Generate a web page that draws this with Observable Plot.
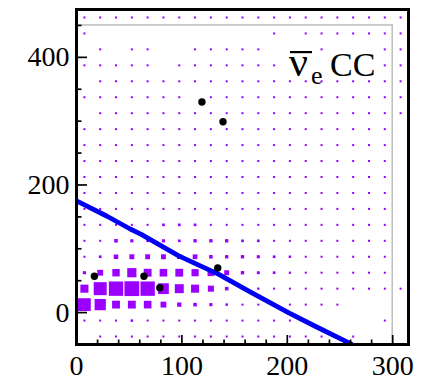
<!DOCTYPE html>
<html>
<head>
<meta charset="utf-8">
<script src="https://cdn.jsdelivr.net/npm/d3@7"></script>
<script src="https://cdn.jsdelivr.net/npm/@observablehq/plot@0.6"></script>
<style>
  html, body { margin: 0; padding: 0; background: white; }
</style>
</head>
<body>
<div id="chart"></div>
<script>
// Bin centres of the 2D histogram
const xCenters = [7.5, 22.5, 37.5, 52.5, 67.5, 82.5, 97.5, 112.5, 127.5, 142.5, 157.5,
                  172.5, 187.5, 202.5, 217.5, 232.5, 247.5, 262.5, 277.5, 292.5, 307.5];
const yCenters = [462.5, 437.5, 412.5, 387.5, 362.5, 337.5, 312.5, 287.5, 262.5, 237.5,
                  212.5, 187.5, 162.5, 137.5, 112.5, 87.5, 62.5, 37.5, 12.5, -12.5, -37.5];

// Bin contents, one row per y bin (top to bottom), one value per x bin
const r462 = [9,9,9,9,9,9,9,9,9,9,9,9,9,9,9,9,9,9,9,9,9];
const r437 = [9,0,0,0,0,0,0,0,0,0,0,0,9,0,9,9,9,9,9,9,9];
const r412 = [0,9,0,9,9,0,0,9,9,9,9,9,0,0,0,9,0,0,0,9,9];
const r387 = [9,9,9,9,9,0,9,9,9,9,9,9,9,0,0,0,0,0,0,9,9];
const r362 = [0,9,9,9,9,9,9,9,9,9,9,9,9,9,9,9,9,9,9,9,9];
const r337 = [9,9,9,9,9,9,9,0,9,9,9,9,9,9,9,9,9,9,9,9,9];
const r312 = [0,9,9,9,9,9,9,9,9,9,9,9,9,9,9,9,9,9,9,9,9];
const r287 = [9,9,9,9,9,9,9,9,9,9,9,9,9,9,9,9,9,9,9,9,0];
const r262 = [9,9,9,9,9,9,9,9,9,9,9,9,9,9,9,9,9,9,9,9,0];
const r237 = [9,9,9,9,9,9,9,9,9,9,9,9,9,9,9,9,9,9,9,9,0];
const r212 = [9,9,9,9,9,9,9,9,9,9,9,9,9,9,9,9,9,9,9,9,0];
const r187 = [9,9,9,9,9,9,9,9,9,9,9,9,9,9,9,9,9,9,9,9,0];
const r162 = [9,9,9,9,9,9,9,9,9,9,9,9,9,9,9,9,9,9,9,9,0];
const r137 = [9,9,9,9,9,12,12,12,9,9,9,9,9,9,9,9,9,9,9,9,0];
const r112 = [9,9,16,14,12,14,12,15,15,15,12,12,9,9,9,9,9,9,9,9,0];
const r87  = [9,12,20,22,22,22,20,21,16,15,15,14,12,11,9,9,9,9,9,9,0];
const r62  = [14,26,33,41,35,34,35,32,30,22,15,13,12,10,9,9,9,9,9,9,0];
const r37  = [36,58,64,66,64,48,40,36,27,16,11,10,9,9,9,9,9,9,9,9,9];
const r12  = [57,50,35,35,34,26,19,16,14,11,9,9,10,9,9,9,9,0,0,0,0];
const rm12 = [9,9,9,11,9,9,9,9,9,9,9,9,9,9,9,0,0,0,0,9,0];
const rm37 = [0,9,9,9,9,9,9,9,9,9,9,9,9,9,9,9,0,9,0,0,0];
const rows = [r462, r437, r412, r387, r362, r337, r312, r287, r262, r237, r212,
              r187, r162, r137, r112, r87, r62, r37, r12, rm12, rm37];

// Data events (black points)
const eventX = [17, 64, 79, 134, 119, 139];
const eventY = [57, 57, 39, 70, 330, 299];

// Blue boundary line
const lineX = [0, 29, 51, 61, 97, 135, 163, 201, 226, 258, 262];
const lineY = [175, 151, 131, 123, 89, 60, 34, 0, -21, -47, -51];

// Inner (histogram) box
const boxX = [0, 300];
const boxY = [-50, 450];

// Axes
const xMajor = [0, 100, 200, 300];
const xMinor = [20, 40, 60, 80, 120, 140, 160, 180, 220, 240, 260, 280];
const yMajor = [0, 200, 400];
const yMinor = [-50, 50, 100, 150, 250, 300, 350, 450];
const labelParts = ["ν", "e", "CC"];

const cells = [];
rows.forEach((row, j) => row.forEach((c, i) => {
  if (c > 0) cells.push({x: xCenters[i], y: yCenters[j], c});
}));
const events = eventX.map((x, i) => ({x, y: eventY[i]}));
const linePts = lineX.map((x, i) => ({x, y: lineY[i]}));

const serif = "'Liberation Serif', 'DejaVu Serif', serif";
const purple = "#9a00ff";
const W = 431, H = 383, mL = 76, mR = 23, mT = 9, mB = 39;

function label() {
  const g = d3.create("svg:g")
    .attr("font-family", serif).attr("fill", "black").attr("text-anchor", "start");
  const right = W - mR;
  const base = mT + 67;
  g.append("text").attr("x", right - 119).attr("y", base).attr("font-size", 42).text(labelParts[0]);
  g.append("rect").attr("x", right - 118).attr("y", base - 25).attr("width", 22).attr("height", 2.2);
  g.append("text").attr("x", right - 97).attr("y", base + 8).attr("font-size", 26).text(labelParts[1]);
  g.append("text").attr("x", right - 78).attr("y", base).attr("font-size", 34).text(labelParts[2]);
  return g.node();
}

const plot = Plot.plot({
  width: W,
  height: H,
  marginLeft: mL,
  marginRight: mR,
  marginTop: mT,
  marginBottom: mB,
  x: {domain: [0, 315], axis: null},
  y: {domain: [-50, 475], axis: null},
  r: {type: "linear", domain: [0, 66], range: [0, 14.8 / Math.sqrt(Math.PI)]},
  style: {fontFamily: serif, background: "white", color: "black"},
  marks: [
    Plot.rect([0], {x1: boxX[0], x2: boxX[1], y1: boxY[0], y2: boxY[1], fill: "none", stroke: "#b4b4b4", strokeWidth: 1.3}),
    Plot.dot(cells, {x: "x", y: "y", r: "c", symbol: "square", fill: purple, stroke: "none"}),
    Plot.line(linePts, {x: "x", y: "y", stroke: "#0000f5", strokeWidth: 4.8, clip: true}),
    Plot.dot(events, {x: "x", y: "y", r: 3.7, fill: "black"}),
    label,
    Plot.axisY(yMinor, {tickSize: -5.5, tickFormat: () => "", strokeWidth: 1.7, label: null}),
    Plot.axisY(yMajor, {tickSize: -11, tickFormat: () => "", strokeWidth: 1.7, label: null}),
    Plot.axisY(yMajor, {tickSize: 0, tickPadding: 7, fontSize: 28, label: null}),
    Plot.axisX(xMinor, {tickSize: -4.5, tickFormat: () => "", strokeWidth: 1.7, label: null}),
    Plot.axisX(xMajor, {tickSize: -9, tickFormat: () => "", strokeWidth: 1.7, label: null}),
    Plot.axisX(xMajor, {tickSize: 0, tickPadding: 11, fontSize: 28, label: null}),
    Plot.frame({stroke: "black", strokeWidth: 3})
  ]
});
document.getElementById("chart").appendChild(plot);
</script>
</body>
</html>
